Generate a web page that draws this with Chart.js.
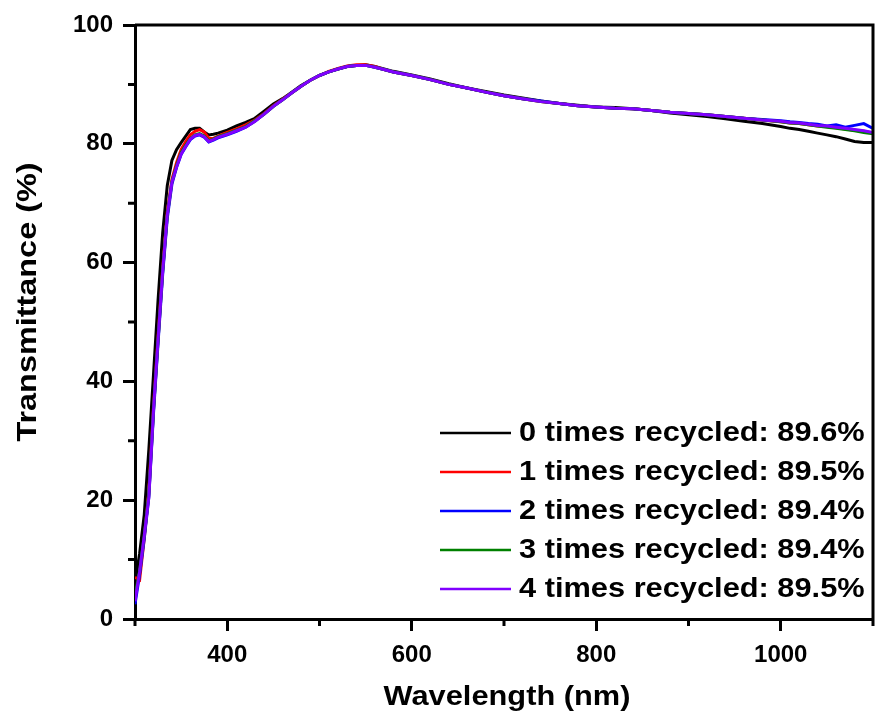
<!DOCTYPE html>
<html>
<head>
<meta charset="utf-8">
<script src="https://cdn.jsdelivr.net/npm/chart.js@4.4.0/dist/chart.umd.min.js"></script>
<style>
  html, body { margin: 0; padding: 0; background: #fff; }
</style>
</head>
<body>
<canvas id="mychart" width="875" height="717"></canvas>
<script>
// 波長 (nm)
const wavelength = [
  300, 305, 310, 315, 320, 325, 330, 335, 340, 345, 350, 355, 360, 365, 370, 375, 380, 385, 390,
  400, 410, 420, 430, 440, 450, 460, 470, 480, 490, 500, 510, 520, 530, 540, 550, 560, 570, 580,
  600, 620, 640, 660, 680, 700, 720, 740, 760, 780, 800, 820, 840, 860, 880, 900, 920, 940, 960, 980, 1000,
  1010, 1020, 1030, 1040, 1050, 1060, 1070, 1080, 1090, 1100
];

// 透過率 (%)
const recycled0 = [
  6.0, 11.0, 17.5, 28.5, 41.0, 53.7, 65.0, 73.0, 77.2, 79.0, 80.2, 81.3, 82.4, 82.6, 82.6, 82.0, 81.5, 81.6, 81.8,
  82.3, 83.0, 83.6, 84.3, 85.5, 86.7, 87.6, 88.7, 89.8, 90.7, 91.5, 92.1, 92.6, 93.0, 93.2, 93.3, 93.0, 92.6, 92.2,
  91.6, 90.9, 90.1, 89.4, 88.8, 88.2, 87.7, 87.2, 86.8, 86.5, 86.2, 86.1, 85.9, 85.6, 85.2, 84.9, 84.6, 84.2, 83.8, 83.4, 82.9,
  82.6, 82.4, 82.1, 81.8, 81.5, 81.2, 80.8, 80.4, 80.2, 80.2
];
const recycled1 = [
  7.0, 6.6, 13.5, 21.5, 35.5, 47.5, 59.0, 68.5, 74.0, 76.8, 79.0, 80.4, 81.5, 82.1, 82.4, 82.0, 80.9, 80.9, 81.3,
  81.9, 82.5, 83.2, 84.0, 85.1, 86.4, 87.5, 88.6, 89.7, 90.7, 91.5, 92.2, 92.7, 93.1, 93.3, 93.3, 93.0, 92.5, 92.1,
  91.5, 90.8, 90.0, 89.4, 88.7, 88.1, 87.6, 87.1, 86.8, 86.4, 86.2, 86.0, 85.9, 85.6, 85.3, 85.1, 84.9, 84.6, 84.3, 84.0, 83.7,
  83.5, 83.4, 83.2, 83.0, 82.9, 82.7, 82.5, 82.3, 82.1, 81.8
];
const recycled2 = [
  2.5, 7.5, 13.5, 20.5, 34.5, 46.5, 58.0, 67.5, 73.2, 76.0, 78.2, 79.5, 80.7, 81.3, 81.5, 81.1, 80.3, 80.6, 81.0,
  81.5, 82.1, 82.8, 83.8, 85.0, 86.3, 87.4, 88.6, 89.7, 90.7, 91.5, 92.1, 92.6, 93.0, 93.2, 93.2, 92.9, 92.5, 92.1,
  91.5, 90.8, 90.0, 89.4, 88.7, 88.1, 87.6, 87.2, 86.8, 86.4, 86.2, 86.0, 85.9, 85.6, 85.3, 85.1, 84.9, 84.6, 84.3, 84.1, 83.9,
  83.7, 83.6, 83.4, 83.3, 83.0, 83.2, 82.8, 83.1, 83.4, 82.6
];
const recycled3 = [
  4.0, 8.0, 14.0, 21.0, 35.0, 47.0, 58.5, 68.0, 73.6, 76.3, 78.5, 79.8, 80.9, 81.5, 81.7, 81.3, 80.5, 80.8, 81.2,
  81.7, 82.3, 82.9, 83.9, 85.0, 86.3, 87.4, 88.6, 89.7, 90.7, 91.5, 92.1, 92.6, 93.0, 93.2, 93.2, 92.9, 92.5, 92.1,
  91.5, 90.8, 90.0, 89.4, 88.7, 88.1, 87.6, 87.1, 86.8, 86.4, 86.2, 86.0, 85.9, 85.6, 85.3, 85.1, 84.9, 84.6, 84.3, 84.0, 83.7,
  83.5, 83.4, 83.2, 83.0, 82.8, 82.6, 82.4, 82.2, 81.9, 81.7
];
const recycled4 = [
  3.0, 8.0, 14.0, 20.5, 35.0, 47.0, 58.5, 68.0, 73.5, 76.1, 78.3, 79.6, 80.8, 81.4, 81.6, 81.2, 80.4, 80.7, 81.1,
  81.6, 82.2, 82.8, 83.8, 85.0, 86.3, 87.4, 88.6, 89.7, 90.7, 91.5, 92.1, 92.6, 93.0, 93.2, 93.2, 92.9, 92.5, 92.1,
  91.5, 90.8, 90.0, 89.4, 88.7, 88.1, 87.6, 87.1, 86.8, 86.4, 86.2, 86.0, 85.9, 85.6, 85.3, 85.1, 84.9, 84.6, 84.3, 84.0, 83.8,
  83.6, 83.5, 83.3, 83.1, 83.0, 82.8, 82.6, 82.4, 82.2, 81.9
];

const seriesLabels = [
  '0 times recycled: 89.6%',
  '1 times recycled: 89.5%',
  '2 times recycled: 89.4%',
  '3 times recycled: 89.4%',
  '4 times recycled: 89.5%'
];
const seriesColors = ['#000000', '#ff0000', '#0000ff', '#008000', '#8000ff'];

// 目盛り
const xTicks = [400, 600, 800, 1000];
const xMinorTicks = [300, 500, 700, 900, 1100];
const yTicks = [0, 20, 40, 60, 80, 100];
const yMinorTicks = [10, 30, 50, 70, 90];

const xTitle = 'Wavelength (nm)';
const yTitle = 'Transmittance (%)';

const series = [recycled0, recycled1, recycled2, recycled3, recycled4];

const datasets = series.map((vals, i) => ({
  label: seriesLabels[i],
  data: vals.map((v, j) => ({ x: wavelength[j], y: v })),
  borderColor: seriesColors[i],
  backgroundColor: seriesColors[i],
  borderWidth: 3,
  pointRadius: 0,
  tension: 0,
  order: series.length - 1 - i // 紫を一番上に
}));

const tickFont = { family: 'Liberation Sans', weight: 'bold', size: 24 };
const bigFont = 'bold 27px "Liberation Sans"';

// 横に伸ばした文字（元図の文字は少し横長）
function stretchedText(ctx, text, x, y, align, k) {
  ctx.save();
  ctx.translate(x, y);
  ctx.scale(k, 1);
  ctx.textAlign = align;
  ctx.fillText(text, 0, 0);
  ctx.restore();
}

// 枠線・補助目盛り・凡例・軸タイトル
const framePlugin = {
  id: 'frame',
  afterDraw(chart) {
    const ctx = chart.ctx;
    const a = chart.chartArea;
    const xs = chart.scales.x;
    const ys = chart.scales.y;
    ctx.save();
    ctx.strokeStyle = '#000';
    ctx.lineWidth = 3;
    ctx.beginPath();
    ctx.moveTo(a.left, a.top);
    ctx.lineTo(a.right, a.top);
    ctx.lineTo(a.right, a.bottom);
    ctx.stroke();

    // 補助目盛り
    ctx.beginPath();
    xMinorTicks.forEach(v => {
      const px = xs.getPixelForValue(v);
      ctx.moveTo(px, a.bottom);
      ctx.lineTo(px, a.bottom + 7);
    });
    yMinorTicks.forEach(v => {
      const py = ys.getPixelForValue(v);
      ctx.moveTo(a.left - 7, py);
      ctx.lineTo(a.left, py);
    });
    ctx.stroke();

    // 凡例
    ctx.font = bigFont;
    ctx.textBaseline = 'middle';
    ctx.fillStyle = '#000';
    chart.data.datasets.forEach((ds, i) => {
      const y = a.bottom - 186 + i * 39;
      ctx.strokeStyle = ds.borderColor;
      ctx.lineWidth = 2.5;
      ctx.beginPath();
      ctx.moveTo(a.left + 305, y);
      ctx.lineTo(a.left + 376, y);
      ctx.stroke();
      stretchedText(ctx, ds.label, a.left + 384, y + 1, 'left', 1.14);
    });

    // 横軸タイトル
    stretchedText(ctx, xTitle, (a.left + a.right) / 2 + 3, 698, 'center', 1.14);

    // 縦軸タイトル
    ctx.translate(29, (a.top + a.bottom) / 2 - 20);
    ctx.rotate(-Math.PI / 2);
    stretchedText(ctx, yTitle, 0, 0, 'center', 1.2);
    ctx.restore();
  }
};

const ctx = document.getElementById('mychart');

const lineChart = new Chart(ctx, {
  type: 'line',
  data: { datasets: datasets },
  plugins: [framePlugin],
  options: {
    responsive: false,
    animation: false,
    layout: { padding: { top: 25, right: 2, left: 0, bottom: 0 } },
    plugins: {
      legend: { display: false },
      tooltip: { enabled: false }
    },
    scales: {
      x: {
        type: 'linear',
        min: 300,
        max: 1100,
        afterBuildTicks: s => { s.ticks = xTicks.map(v => ({ value: v })); },
        afterFit: s => { s.height = 98; },
        grid: { drawOnChartArea: false, drawTicks: true, tickLength: 12, tickWidth: 3, tickColor: '#000' },
        border: { display: true, width: 3, color: '#000' },
        ticks: {
          font: tickFont,
          color: '#000',
          padding: 10,
          maxRotation: 0,
          autoSkip: false,
          callback: v => String(v)
        }
      },
      y: {
        min: 0,
        max: 100,
        afterBuildTicks: s => { s.ticks = yTicks.map(v => ({ value: v })); },
        afterFit: s => { s.width = 135; },
        grid: { drawOnChartArea: false, drawTicks: true, tickLength: 12, tickWidth: 3, tickColor: '#000' },
        border: { display: true, width: 3, color: '#000' },
        ticks: {
          font: tickFont,
          color: '#000',
          padding: 10,
          callback: v => String(v)
        }
      }
    }
  }
});
</script>
</body>
</html>
